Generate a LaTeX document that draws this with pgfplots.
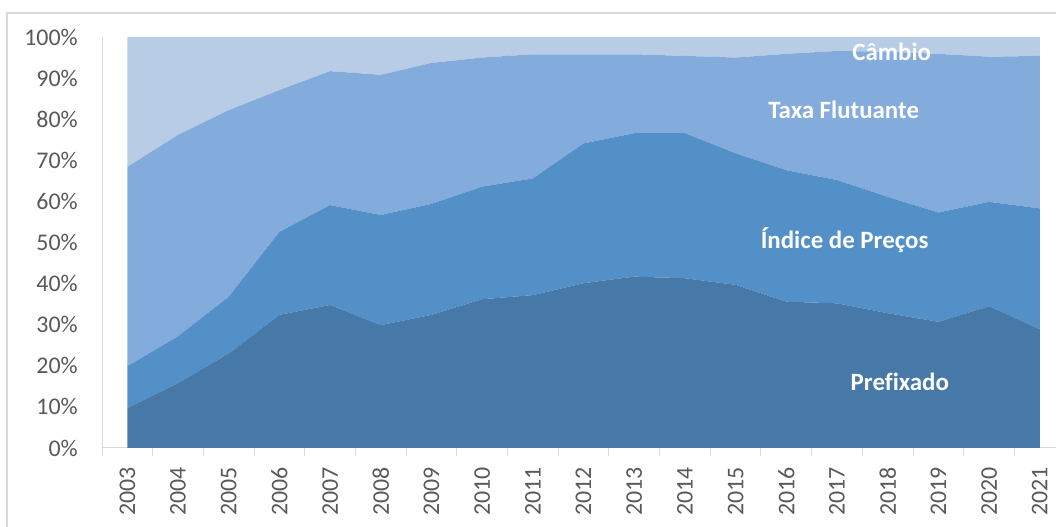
\documentclass[border=0pt]{standalone}
\usepackage{pgfplots}
\usepackage{pgfplotstable}
\pgfplotsset{compat=1.18}
\usepackage{fontspec}
\setmainfont{Carlito}
\definecolor{cP}{HTML}{4678A8}
\definecolor{cI}{HTML}{5490C8}
\definecolor{cT}{HTML}{83ABDC}
\definecolor{cC}{HTML}{B8CCE6}
\definecolor{lbl}{HTML}{595959}
\definecolor{frm}{HTML}{D9D9D9}
\pgfplotstableread{
x P I T C
0 9.7 10.2 48.5 31.6
1 15.8 11.4 49.0 23.8
2 23.0 13.8 45.4 17.8
3 32.4 20.2 34.5 12.9
4 34.8 24.3 32.6 8.3
5 29.9 26.8 34.1 9.2
6 32.4 27.0 34.3 6.3
7 36.2 27.4 31.4 5.0
8 37.2 28.4 30.2 4.2
9 40.1 34.0 21.7 4.2
10 41.7 34.9 19.2 4.2
11 41.3 35.3 18.8 4.6
12 39.7 32.0 23.3 5.0
13 35.6 32.0 28.3 4.1
14 35.2 30.0 31.4 3.4
15 32.8 28.3 35.3 3.6
16 30.7 26.6 38.6 4.1
17 34.5 25.4 35.3 4.8
18 28.9 29.4 37.1 4.6
}\datatable
\begin{document}
\begin{tikzpicture}
\path[use as bounding box, clip] (0bp,0bp) rectangle (1056bp,527bp);
\draw[frm, line width=1.2bp] (7bp,-5bp) -- (7bp,514bp) -- (1060bp,514bp);
\begin{axis}[
  at={(102bp,79bp)}, anchor=south west,
  scale only axis, width=954bp, height=411bp,
  xmin=-0.5, xmax=18.32, ymin=0, ymax=100,
  stack plots=y,
  axis lines*=left,
  axis line style={frm, line width=1bp},
  ytick={0,10,...,100},
  yticklabels={0\%,10\%,20\%,30\%,40\%,50\%,60\%,70\%,80\%,90\%,100\%},
  ytick style={draw=none},
  yticklabel style={font=\fontsize{24}{28}\selectfont, text=lbl, anchor=east, inner sep=0pt, xshift=-24bp},
  xtick={0,...,18},
  xticklabels={2003,2004,2005,2006,2007,2008,2009,2010,2011,2012,2013,2014,2015,2016,2017,2018,2019,2020,2021},
  xtick style={draw=none},
  xticklabel style={yshift=-19bp, font=\fontsize{24}{28}\selectfont, text=lbl, rotate=90, anchor=east, inner sep=0pt},
  extra x ticks={-0.5,0.5,...,17.5},
  extra x tick labels={},
  extra x tick style={xtick style={draw=frm, line width=1bp}, major tick length=8bp, tick align=outside},
  clip=false,
]
\addplot[fill=cP, draw=none] table[x=x,y=P] {\datatable} \closedcycle;
\addplot[fill=cI, draw=none] table[x=x,y=I] {\datatable} \closedcycle;
\addplot[fill=cT, draw=none] table[x=x,y=T] {\datatable} \closedcycle;
\addplot[fill=cC, draw=none] table[x=x,y=C] {\datatable} \closedcycle;
\coordinate (lC) at (axis cs:15.08,96.4);
\coordinate (lT) at (axis cs:14.13,82.2);
\coordinate (lI) at (axis cs:14.15,50.6);
\coordinate (lP) at (axis cs:15.24,16.1);
\end{axis}
\begin{scope}[every node/.style={font=\bfseries\fontsize{25}{30}\selectfont, text=white}]
\node at (lC) {Câmbio};
\node at (lT) {Taxa Flutuante};
\node at (lI) {Índice de Preços};
\node at (lP) {Pref\kern0pt ixado};
\end{scope}
\end{tikzpicture}
\end{document}
